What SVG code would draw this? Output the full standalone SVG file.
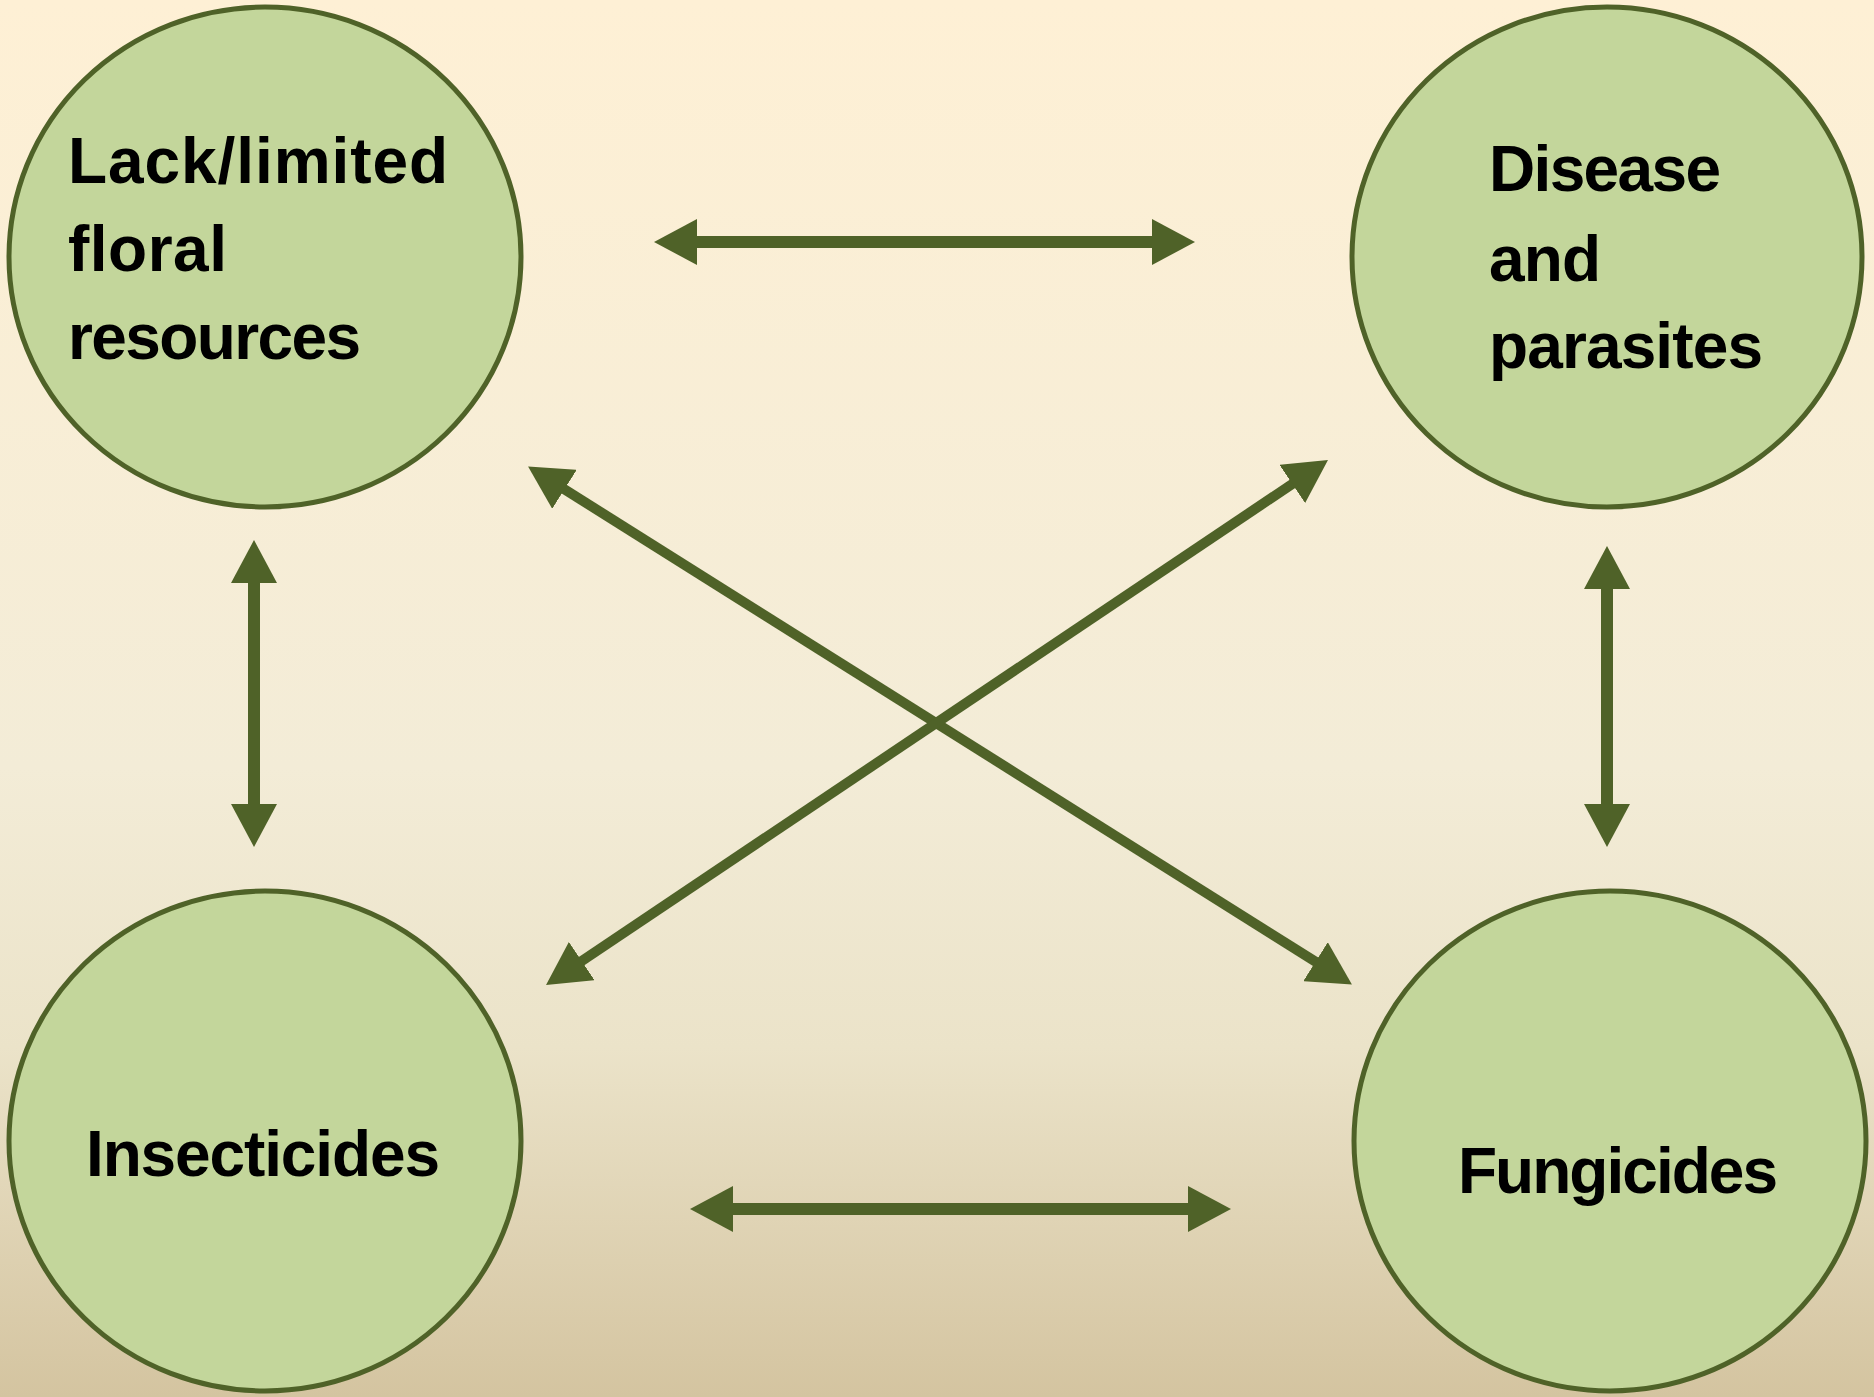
<svg xmlns="http://www.w3.org/2000/svg" width="1874" height="1397" viewBox="0 0 1874 1397">
  <defs>
    <linearGradient id="bg" x1="0" y1="0" x2="0" y2="1">
      <stop offset="0" stop-color="#fef0d5"/>
      <stop offset="0.55" stop-color="#f3ecd7"/>
      <stop offset="0.75" stop-color="#ebe3c9"/>
      <stop offset="1" stop-color="#d4c4a0"/>
    </linearGradient>
    <marker id="head" markerUnits="userSpaceOnUse" markerWidth="43" markerHeight="46" viewBox="0 0 43 46" refX="10" refY="23" orient="auto-start-reverse">
      <path d="M0,0 L43,23 L0,46 Z" fill="#4f6228"/>
    </marker>
    <style>
      .node { fill: #c3d69b; stroke: #4f6228; stroke-width: 5; }
      .lbl { font-family: "Liberation Sans", Arial, sans-serif; font-weight: bold; font-size: 64px; fill: #000; }
      .arr { stroke: #4f6228; fill: none; marker-start: url(#head); marker-end: url(#head); }
      .straight { stroke-width: 12; }
      .diag { stroke-width: 10; }
    </style>
  </defs>
  <rect x="0" y="0" width="1874" height="1397" fill="url(#bg)"/>

  <g id="connectors">
    <line class="arr straight" x1="687" y1="242" x2="1162" y2="242"/>
    <line class="arr straight" x1="723" y1="1209" x2="1198" y2="1209"/>
    <line class="arr straight" x1="254" y1="573" x2="254" y2="814"/>
    <line class="arr straight" x1="1607" y1="579" x2="1607" y2="814"/>
    <line class="arr diag" x1="556" y1="484" x2="1324" y2="967"/>
    <line class="arr diag" x1="1300.6" y1="478.4" x2="573.4" y2="966.6"/>
  </g>

  <g id="node-floral">
    <ellipse class="node" cx="265" cy="257" rx="256" ry="250"/>
    <text class="lbl"><tspan x="68" y="183" textLength="380" lengthAdjust="spacing">Lack/limited</tspan><tspan x="68" y="271" textLength="159" lengthAdjust="spacing">floral</tspan><tspan x="68" y="359" textLength="293" lengthAdjust="spacing">resources</tspan></text>
  </g>
  <g id="node-disease">
    <ellipse class="node" cx="1607" cy="257" rx="255" ry="250"/>
    <text class="lbl"><tspan x="1489" y="191" textLength="232" lengthAdjust="spacing">Disease</tspan><tspan x="1489" y="281" textLength="112" lengthAdjust="spacing">and</tspan><tspan x="1489" y="368" textLength="274" lengthAdjust="spacing">parasites</tspan></text>
  </g>
  <g id="node-insecticides">
    <ellipse class="node" cx="265" cy="1141" rx="256" ry="250"/>
    <text class="lbl" x="86" y="1176" textLength="354" lengthAdjust="spacing">Insecticides</text>
  </g>
  <g id="node-fungicides">
    <ellipse class="node" cx="1610" cy="1141" rx="256" ry="250"/>
    <text class="lbl" x="1458" y="1193" textLength="320" lengthAdjust="spacing">Fungicides</text>
  </g>
</svg>
